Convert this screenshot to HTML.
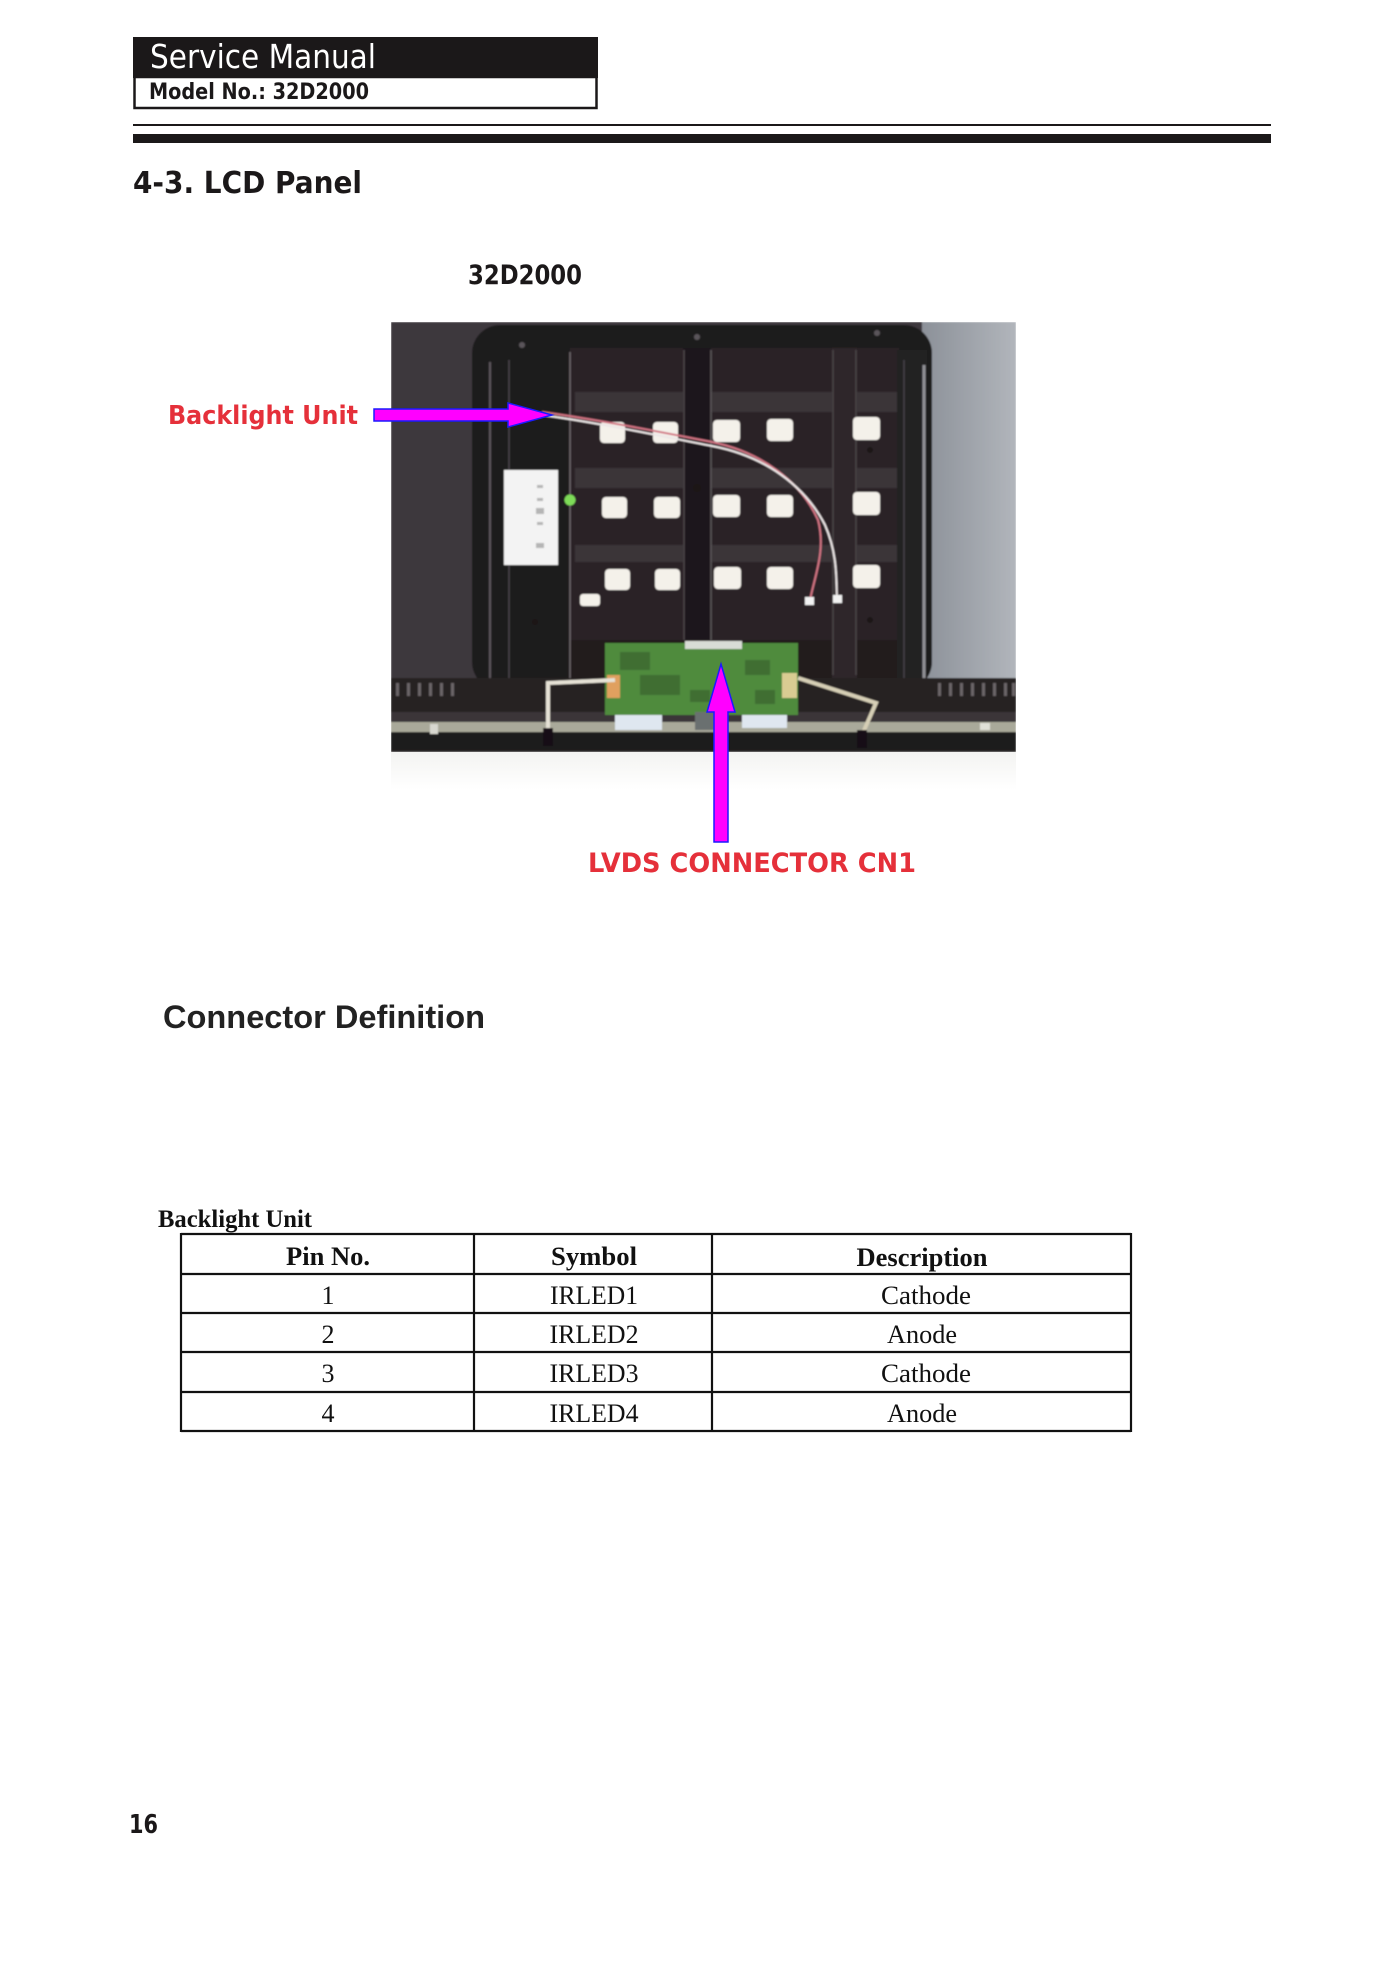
<!DOCTYPE html>
<html>
<head>
<meta charset="utf-8">
<style>
  html,body{margin:0;padding:0;background:#fff;}
  svg{display:block;}
</style>
</head>
<body>
<svg width="1400" height="1982" viewBox="0 0 1400 1982" xmlns="http://www.w3.org/2000/svg">
  <defs>
    <filter id="soft" x="0" y="0" width="1" height="1">
      <feGaussianBlur stdDeviation="0.9"/>
    </filter>
    <linearGradient id="gray" x1="0" y1="0" x2="1" y2="0">
      <stop offset="0" stop-color="#8c9199"/>
      <stop offset="1" stop-color="#b1b5bb"/>
    </linearGradient>
    <linearGradient id="fade" x1="0" y1="0" x2="0" y2="1">
      <stop offset="0" stop-color="#f3f3f1"/>
      <stop offset="1" stop-color="#ffffff"/>
    </linearGradient>
  </defs>

  <rect width="1400" height="1982" fill="#ffffff"/>

  <!-- Header box -->
  <rect x="133" y="37" width="465" height="41" fill="#1b1819"/>
  <rect x="134.5" y="77" width="462" height="31" fill="#fff" stroke="#1b1819" stroke-width="2.5"/>
  <text x="150" y="68" font-family="DejaVu Sans, Liberation Sans, sans-serif" font-size="33" fill="#ffffff" textLength="226" lengthAdjust="spacingAndGlyphs">Service Manual</text>
  <text x="149" y="99" font-family="DejaVu Sans, Liberation Sans, sans-serif" font-weight="bold" font-size="22" fill="#1b1819" textLength="220" lengthAdjust="spacingAndGlyphs">Model No.: 32D2000</text>

  <!-- Rules -->
  <rect x="133" y="124" width="1138" height="2" fill="#1b1819"/>
  <rect x="133" y="134" width="1138" height="9" fill="#1b1819"/>

  <!-- Title -->
  <text x="133" y="193" font-family="DejaVu Sans, Liberation Sans, sans-serif" font-weight="bold" font-size="30" fill="#1b1819" textLength="229" lengthAdjust="spacingAndGlyphs">4-3. LCD Panel</text>
  <text x="468" y="284" font-family="DejaVu Sans, Liberation Sans, sans-serif" font-weight="bold" font-size="27" fill="#1b1819" textLength="114" lengthAdjust="spacingAndGlyphs">32D2000</text>

  <!-- Photo -->
  <rect x="391" y="750" width="625" height="40" fill="url(#fade)"/>
  <g filter="url(#soft)">
    <rect x="391" y="322" width="625" height="430" fill="#3d383d"/>
    <rect x="922" y="322" width="94" height="360" fill="url(#gray)"/>
    <!-- frame -->
    <rect x="472" y="325" width="460" height="365" rx="28" fill="#1f1a1e"/>
    <rect x="505" y="348" width="394" height="332" fill="#2a2427"/>
    <rect x="505" y="348" width="65" height="332" fill="#1f1a1d"/>
    <rect x="570" y="640" width="329" height="40" fill="#211c1f"/>
    <!-- horizontal bands -->
    <rect x="575" y="392" width="322" height="20" fill="#3b3538"/>
    <rect x="575" y="468" width="322" height="20" fill="#3b3538"/>
    <rect x="575" y="545" width="322" height="17" fill="#3b3538"/>
    <!-- vertical bars -->
    <rect x="683" y="348" width="28" height="292" fill="#1d181b"/>
    <line x1="684" y1="350" x2="684" y2="640" stroke="#4d474b" stroke-width="1.5"/>
    <line x1="711" y1="350" x2="711" y2="640" stroke="#5c565a" stroke-width="1.5"/>
    <rect x="832" y="348" width="25" height="330" fill="#2e282b"/>
    <line x1="833" y1="350" x2="833" y2="675" stroke="#4a4447" stroke-width="1.5"/>
    <line x1="856" y1="350" x2="856" y2="675" stroke="#4a4447" stroke-width="1.5"/>
    <!-- right frame -->
    <rect x="897" y="350" width="30" height="330" fill="#242023"/>
    <line x1="924" y1="365" x2="924" y2="680" stroke="#8f8f94" stroke-width="3"/>
    <line x1="904" y1="360" x2="904" y2="680" stroke="#45404a" stroke-width="1.5"/>
    <!-- left frame lines -->
    <line x1="490" y1="362" x2="490" y2="680" stroke="#5b565c" stroke-width="2"/>
    <line x1="509" y1="360" x2="509" y2="680" stroke="#4a454b" stroke-width="1.5"/>
    <line x1="570" y1="352" x2="570" y2="678" stroke="#6e686c" stroke-width="1.5"/>
    <!-- screws -->
    <circle cx="522" cy="345" r="3" fill="#5a555a"/>
    <circle cx="697" cy="337" r="3" fill="#5a555a"/>
    <circle cx="877" cy="333" r="3" fill="#5a555a"/>
    <circle cx="697" cy="488" r="4" fill="#1a1618"/>
    <circle cx="870" cy="450" r="3" fill="#1a1618"/>
    <circle cx="870" cy="620" r="3" fill="#1a1618"/>
    <circle cx="535" cy="622" r="3" fill="#1a1618"/>
    <!-- LED squares -->
    <g fill="#f4f1ea">
      <rect x="600" y="422" width="25" height="21" rx="4"/>
      <rect x="653" y="422" width="25" height="21" rx="4"/>
      <rect x="713" y="420" width="27" height="22" rx="4"/>
      <rect x="767" y="419" width="26" height="22" rx="4"/>
      <rect x="853" y="417" width="27" height="23" rx="4"/>
      <rect x="602" y="497" width="25" height="21" rx="4"/>
      <rect x="654" y="497" width="26" height="21" rx="4"/>
      <rect x="713" y="495" width="27" height="22" rx="4"/>
      <rect x="767" y="495" width="26" height="22" rx="4"/>
      <rect x="853" y="492" width="27" height="23" rx="4"/>
      <rect x="605" y="569" width="25" height="21" rx="4"/>
      <rect x="655" y="569" width="25" height="21" rx="4"/>
      <rect x="714" y="567" width="27" height="22" rx="4"/>
      <rect x="767" y="567" width="26" height="22" rx="4"/>
      <rect x="853" y="565" width="27" height="23" rx="4"/>
      <rect x="580" y="594" width="20" height="12" rx="3"/>
    </g>
    <!-- white label -->
    <rect x="504" y="470" width="54" height="95" fill="#f3f3f3"/>
    <g fill="#b5b5b5">
      <rect x="537" y="485" width="6" height="3"/>
      <rect x="537" y="498" width="6" height="3"/>
      <rect x="536" y="508" width="8" height="6"/>
      <rect x="537" y="522" width="6" height="3"/>
      <rect x="536" y="543" width="8" height="5"/>
    </g>
    <circle cx="570" cy="500" r="5.5" fill="#7edb58"/>
    <!-- bottom band -->
    <rect x="391" y="678" width="625" height="74" fill="#262224"/>
    <rect x="391" y="712" width="625" height="10" fill="#3a3537"/>
    <rect x="391" y="722" width="625" height="10" fill="#a9a99a"/>
    <rect x="391" y="732" width="625" height="18" fill="#1e1b1d"/>
    <g fill="#6a6568">
      <rect x="396" y="683" width="3" height="13"/><rect x="407" y="683" width="3" height="13"/>
      <rect x="418" y="683" width="3" height="13"/><rect x="429" y="683" width="3" height="13"/>
      <rect x="440" y="683" width="3" height="13"/><rect x="451" y="683" width="3" height="13"/>
      <rect x="938" y="683" width="3" height="13"/><rect x="949" y="683" width="3" height="13"/>
      <rect x="960" y="683" width="3" height="13"/><rect x="971" y="683" width="3" height="13"/>
      <rect x="982" y="683" width="3" height="13"/><rect x="993" y="683" width="3" height="13"/>
      <rect x="1004" y="683" width="3" height="13"/><rect x="1012" y="683" width="3" height="13"/>
    </g>
    <rect x="430" y="724" width="8" height="10" fill="#d8d8d0"/>
    <rect x="980" y="723" width="10" height="7" fill="#e0e0d8"/>
    <!-- PCB -->
    <rect x="605" y="643" width="193" height="72" fill="#4f8b3e"/>
    <g fill="#3f6e33">
      <rect x="620" y="652" width="30" height="18"/>
      <rect x="640" y="675" width="40" height="20"/>
      <rect x="690" y="690" width="20" height="12"/>
      <rect x="745" y="660" width="25" height="15"/>
      <rect x="755" y="690" width="20" height="14"/>
    </g>
    <rect x="607" y="675" width="13" height="23" fill="#e0a05e"/>
    <rect x="782" y="673" width="15" height="25" fill="#d9cc92"/>
    <rect x="685" y="641" width="57" height="8" fill="#d8dcd6"/>
    <rect x="615" y="715" width="47" height="15" fill="#dfe7f0"/>
    <rect x="742" y="715" width="45" height="13" fill="#dfe7f0"/>
    <rect x="695" y="712" width="30" height="18" fill="#6a7070"/>
    <!-- cables -->
    <polyline points="615,680 548,683 548,730" fill="none" stroke="#e6e2d6" stroke-width="4"/>
    <polyline points="798,678 876,703 862,735" fill="none" stroke="#d6cfb6" stroke-width="4"/>
    <rect x="543" y="728" width="10" height="18" fill="#141113"/>
    <rect x="857" y="730" width="10" height="18" fill="#141113"/>
    <!-- wires -->
    <path d="M542,412 C600,420 660,432 712,442 C760,452 800,480 818,520 C826,550 815,575 810,600" fill="none" stroke="#d27483" stroke-width="2"/>
    <path d="M542,415 C600,423 660,436 712,446 C765,456 805,486 825,525 C838,555 836,580 837,598" fill="none" stroke="#ece6e6" stroke-width="2"/>
    <rect x="805" y="597" width="9" height="8" fill="#f2f2f2"/>
    <rect x="833" y="595" width="9" height="8" fill="#f2f2f2"/>
  </g>

  <!-- Arrows -->
  <polygon points="374,409 508,409 508,403 552,415 508,427 508,421 374,421" fill="#ff00ff" stroke="#1a1aff" stroke-width="1.5" stroke-linejoin="miter"/>
  <polygon points="714,842 714,712 707,712 721,664 735,712 728,712 728,842" fill="#ff00ff" stroke="#1a1aff" stroke-width="1.5" stroke-linejoin="miter"/>

  <!-- Labels -->
  <text x="168" y="424" font-family="DejaVu Sans, Liberation Sans, sans-serif" font-weight="bold" font-size="26" fill="#e5303a" textLength="190" lengthAdjust="spacingAndGlyphs">Backlight Unit</text>
  <text x="588" y="872" font-family="DejaVu Sans, Liberation Sans, sans-serif" font-weight="bold" font-size="27" fill="#e5303a" textLength="328" lengthAdjust="spacingAndGlyphs">LVDS CONNECTOR CN1</text>

  <text x="163" y="1028" font-family="Liberation Sans, Arial, sans-serif" font-weight="bold" font-size="32" fill="#222222" textLength="322" lengthAdjust="spacingAndGlyphs">Connector Definition</text>

  <!-- Table -->
  <text x="158" y="1227" font-family="Liberation Serif, serif" font-weight="bold" font-size="25" fill="#111" textLength="154" lengthAdjust="spacingAndGlyphs">Backlight Unit</text>
  <g stroke="#111" stroke-width="2.2">
    <line x1="181" y1="1234" x2="1131" y2="1234"/>
    <line x1="181" y1="1274" x2="1131" y2="1274"/>
    <line x1="181" y1="1313" x2="1131" y2="1313"/>
    <line x1="181" y1="1352" x2="1131" y2="1352"/>
    <line x1="181" y1="1392" x2="1131" y2="1392"/>
    <line x1="181" y1="1431" x2="1131" y2="1431"/>
    <line x1="181" y1="1233" x2="181" y2="1432"/>
    <line x1="474" y1="1233" x2="474" y2="1432"/>
    <line x1="712" y1="1233" x2="712" y2="1432"/>
    <line x1="1131" y1="1233" x2="1131" y2="1432"/>
  </g>
  <g font-family="Liberation Serif, serif" font-size="26" fill="#111" text-anchor="middle">
    <text x="328" y="1265" font-weight="bold" textLength="84" lengthAdjust="spacingAndGlyphs">Pin No.</text>
    <text x="594" y="1265" font-weight="bold" textLength="86" lengthAdjust="spacingAndGlyphs">Symbol</text>
    <text x="922" y="1266" font-weight="bold" textLength="131" lengthAdjust="spacingAndGlyphs">Description</text>

    <text x="328" y="1304">1</text>
    <text x="594" y="1304" textLength="88" lengthAdjust="spacingAndGlyphs">IRLED1</text>
    <text x="926" y="1304" textLength="90" lengthAdjust="spacingAndGlyphs">Cathode</text>

    <text x="328" y="1343">2</text>
    <text x="594" y="1343" textLength="89" lengthAdjust="spacingAndGlyphs">IRLED2</text>
    <text x="922" y="1343" textLength="70" lengthAdjust="spacingAndGlyphs">Anode</text>

    <text x="328" y="1382">3</text>
    <text x="594" y="1382" textLength="89" lengthAdjust="spacingAndGlyphs">IRLED3</text>
    <text x="926" y="1382" textLength="90" lengthAdjust="spacingAndGlyphs">Cathode</text>

    <text x="328" y="1422">4</text>
    <text x="594" y="1422" textLength="89" lengthAdjust="spacingAndGlyphs">IRLED4</text>
    <text x="922" y="1422" textLength="70" lengthAdjust="spacingAndGlyphs">Anode</text>
  </g>

  <!-- Page number -->
  <text x="129" y="1833" font-family="DejaVu Sans, Liberation Sans, sans-serif" font-weight="bold" font-size="26" fill="#1b1819" textLength="29" lengthAdjust="spacingAndGlyphs">16</text>
</svg>
</body>
</html>
